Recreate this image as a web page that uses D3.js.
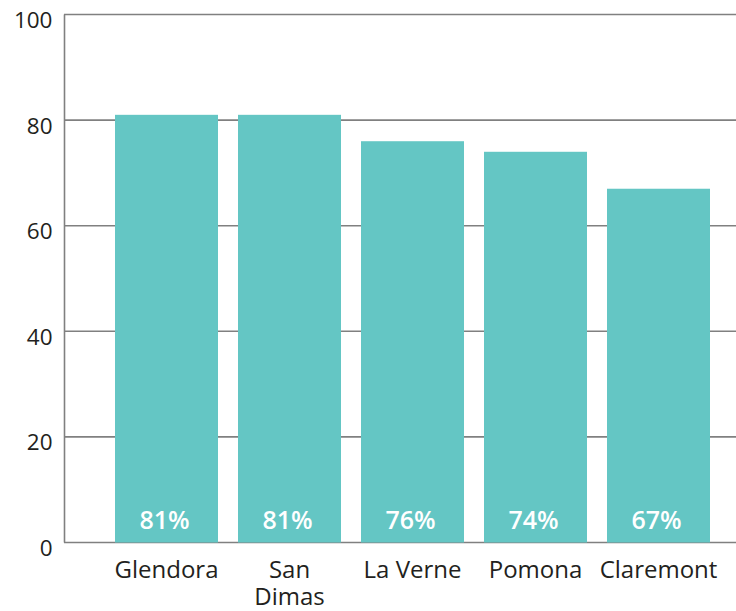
<!DOCTYPE html>
<html>
<head>
<meta charset="utf-8">
<script src="https://cdn.jsdelivr.net/npm/d3@7"></script>
<style>
  body { margin: 0; background: #fff; }
  text { font-family: "Open Sans", "DejaVu Sans", sans-serif; }
</style>
</head>
<body>
<div id="app"></div>
<script>
const cities = ["Glendora", "San Dimas", "La Verne", "Pomona", "Claremont"];
const values = [81, 81, 76, 74, 67];
const yTicks = [0, 20, 40, 60, 80, 100];

const width = 736;
const height = 611;

const svg = d3.select("#app").append("svg")
  .attr("width", width)
  .attr("height", height);

const x = d3.scaleBand()
  .domain(cities)
  .range([105, 720])
  .paddingInner(20 / 123)
  .paddingOuter(10 / 123);

const y = d3.scaleLinear()
  .domain([0, 100])
  .range([542.5, 14.5]);

// gridlines
svg.append("g")
  .selectAll("line")
  .data(yTicks)
  .join("line")
  .attr("x1", 64)
  .attr("x2", width)
  .attr("y1", (d) => y(d))
  .attr("y2", (d) => y(d))
  .attr("stroke", "#808080")
  .attr("stroke-width", 1.6);

// left axis line
svg.append("line")
  .attr("x1", 64.5)
  .attr("x2", 64.5)
  .attr("y1", y(100))
  .attr("y2", y(0))
  .attr("stroke", "#808080")
  .attr("stroke-width", 1.6);

// y tick labels
svg.append("g")
  .selectAll("text")
  .data(yTicks)
  .join("text")
  .attr("x", 52.5)
  .attr("y", (d) => y(d) + 13.5)
  .attr("text-anchor", "end")
  .attr("fill", "#231f20")
  .style("font-size", "22.5px")
  .text((d) => d);

// bars
svg.append("g")
  .selectAll("rect")
  .data(cities)
  .join("rect")
  .attr("x", (d) => x(d))
  .attr("width", x.bandwidth())
  .attr("y", (d, i) => y(values[i]))
  .attr("height", (d, i) => y(0) - y(values[i]))
  .attr("fill", "#64c6c4");

// value labels
svg.append("g")
  .selectAll("text")
  .data(cities)
  .join("text")
  .attr("x", (d) => x(d) + x.bandwidth() / 2 - 2)
  .attr("y", 528.5)
  .attr("text-anchor", "middle")
  .attr("fill", "#fff")
  .style("font-size", "25px")
  .style("font-weight", "600")
  .text((d, i) => `${values[i]}%`);

// category labels
const labels = svg.append("g")
  .selectAll("text")
  .data(cities)
  .join("text")
  .attr("text-anchor", "middle")
  .attr("fill", "#231f20")
  .style("font-size", "24px")
  .attr("y", 577.5);

labels.each(function (d) {
  const words = d === "San Dimas" ? ["San", "Dimas"] : [d];
  d3.select(this)
    .selectAll("tspan")
    .data(words)
    .join("tspan")
    .attr("x", x(d) + x.bandwidth() / 2)
    .attr("dy", (w, i) => (i === 0 ? 0 : 27.5))
    .text((w) => w);
});
</script>
</body>
</html>
